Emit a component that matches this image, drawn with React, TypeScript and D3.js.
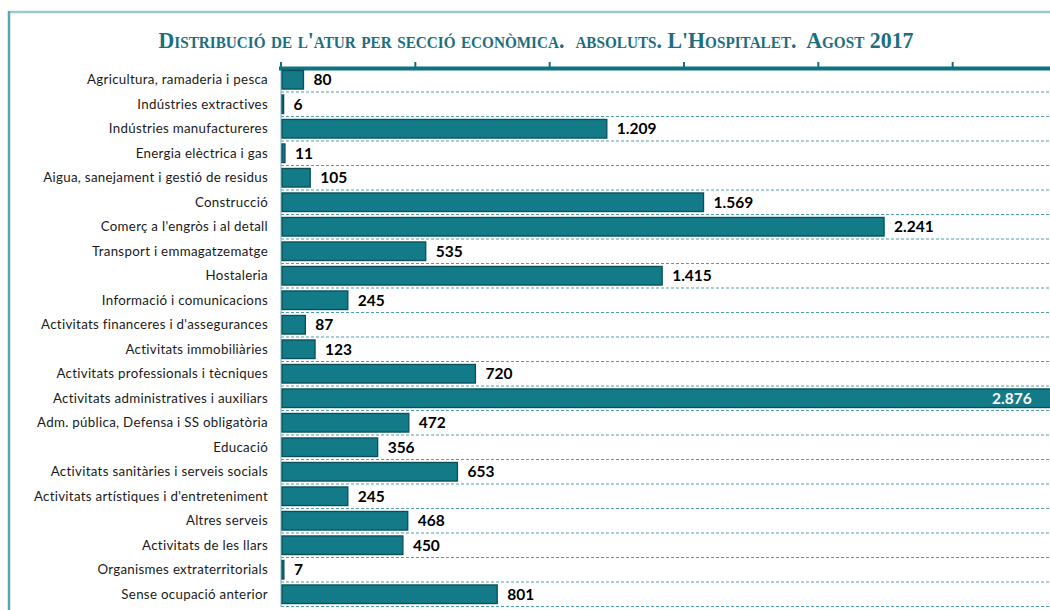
import React, { useRef, useEffect } from "react";
import * as d3 from "d3";

const categories = [
  "Agricultura, ramaderia i pesca",
  "Indústries extractives",
  "Indústries manufactureres",
  "Energia elèctrica i gas",
  "Aigua, sanejament i gestió de residus",
  "Construcció",
  "Comerç a l'engròs i al detall",
  "Transport i emmagatzematge",
  "Hostaleria",
  "Informació i comunicacions",
  "Activitats financeres i d'assegurances",
  "Activitats immobiliàries",
  "Activitats professionals i tècniques",
  "Activitats administratives i auxiliars",
  "Adm. pública, Defensa i SS obligatòria",
  "Educació",
  "Activitats sanitàries i serveis socials",
  "Activitats artístiques i d'entreteniment",
  "Altres serveis",
  "Activitats de les llars",
  "Organismes extraterritorials",
  "Sense ocupació anterior",
];

const values = [80, 6, 1209, 11, 105, 1569, 2241, 535, 1415, 245, 87, 123, 720, 2876, 472, 356, 653, 245, 468, 450, 7, 801];

const tickValues = [0, 500, 1000, 1500, 2000, 2500, 3000];

const title = "Distribució de l'atur per secció econòmica.  absoluts. L'Hospitalet.  Agost 2017";

const W = 1050;
const H = 610;

const App = () => {
  const svgRef = useRef(null);

  useEffect(() => {
    const svg = d3.select(svgRef.current);
    svg.selectAll("*").remove();

    const x = d3.scaleLinear().domain([0, 3000]).range([281, 1087]);
    const y = d3.scaleBand().domain(categories).range([67.5, 606.5]).paddingInner(0.24).paddingOuter(0.12);

    // frame
    svg.append("line").attr("x1", 9).attr("x2", W).attr("y1", 12).attr("y2", 12)
      .attr("stroke", "#9cc8d2").attr("stroke-width", 2.5);
    svg.append("line").attr("x1", 9).attr("x2", 9).attr("y1", 11).attr("y2", H)
      .attr("stroke", "#5aa6b4").attr("stroke-width", 2.5);

    // title
    svg.append("text")
      .attr("x", 536).attr("y", 48)
      .attr("text-anchor", "middle")
      .attr("font-family", "Liberation Serif, serif")
      .attr("font-weight", "bold")
      .attr("font-size", 23)
      .attr("font-variant", "small-caps")
      .attr("fill", "#1d6e7e")
      .attr("textLength", 755)
      .attr("lengthAdjust", "spacingAndGlyphs")
      .style("white-space", "pre")
      .text(title);

    // dashed separators
    const step = y.step();
    const y0 = 67.5;
    svg.append("g").selectAll("line")
      .data(categories)
      .enter()
      .append("line")
      .attr("x1", 281).attr("x2", W)
      .attr("y1", (d, i) => y0 + step * (i + 1))
      .attr("y2", (d, i) => y0 + step * (i + 1))
      .attr("stroke", "#4d9db0")
      .attr("stroke-width", 1)
      .attr("stroke-dasharray", "3,2");

    // vertical axis line
    svg.append("line").attr("x1", 281).attr("x2", 281).attr("y1", 62).attr("y2", 607)
      .attr("stroke", "#7ab3c0").attr("stroke-width", 1);

    // top axis
    svg.append("line").attr("x1", 279).attr("x2", W).attr("y1", 68.5).attr("y2", 68.5)
      .attr("stroke", "#0e7282").attr("stroke-width", 4);
    svg.append("g").selectAll("line")
      .data(tickValues)
      .enter()
      .append("line")
      .attr("x1", d => x(d)).attr("x2", d => x(d))
      .attr("y1", 62).attr("y2", 68)
      .attr("stroke", "#0e7282").attr("stroke-width", 2);

    // bars
    const rows = svg.append("g").selectAll("g")
      .data(categories.map((c, i) => ({ c, v: values[i] })))
      .enter()
      .append("g");

    rows.append("rect")
      .attr("x", x(0) + 1)
      .attr("y", d => y(d.c))
      .attr("width", d => Math.max(1, x(d.v) - x(0)))
      .attr("height", y.bandwidth())
      .attr("fill", "#137a88")
      .attr("stroke", "#0a4f58")
      .attr("stroke-width", 1.3);

    // category labels
    rows.append("text")
      .attr("x", 268)
      .attr("y", d => y(d.c) + y.bandwidth() / 2)
      .attr("dy", "0.35em")
      .attr("text-anchor", "end")
      .attr("font-family", "Lato, sans-serif")
      .attr("font-size", 13.3)
      .attr("letter-spacing", 0.3)
      .attr("fill", "#1a1a1a")
      .text(d => d.c);

    // value labels
    const fmt = d3.formatLocale({ decimal: ",", thousands: ".", grouping: [3], currency: ["", "€"] }).format(",d");
    rows.append("text")
      .attr("x", d => (x(d.v) > W ? x(d.v) - 22 : x(d.v) + 11))
      .attr("y", d => y(d.c) + y.bandwidth() / 2)
      .attr("dy", "0.36em")
      .attr("text-anchor", d => (x(d.v) > W ? "end" : "start"))
      .attr("font-family", "Lato, sans-serif")
      .attr("font-weight", "bold")
      .attr("font-size", 15.5)
      .attr("fill", d => (x(d.v) > W ? "#ffffff" : "#000000"))
      .text(d => fmt(d.v));
  }, []);

  return (
    <svg
      ref={svgRef}
      width={W}
      height={H}
      style={{ position: "absolute", left: 0, top: 0, background: "#fff" }}
    ></svg>
  );
};

export default App;
